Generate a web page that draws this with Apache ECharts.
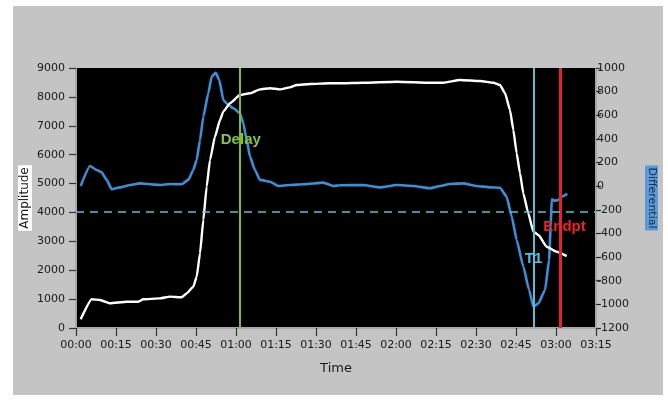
<!DOCTYPE html>
<html><head><meta charset="utf-8">
<script src="https://cdn.jsdelivr.net/npm/echarts@6/dist/echarts.min.js"></script>
<style>html,body{margin:0;padding:0;background:#fff}#c{width:668px;height:405px}</style>
</head><body><div id="c"></div>
<script>
// Time ticks (seconds), 00:00 ... 03:15
const timeMin = 0, timeMax = 195, timeStep = 15;
// Amplitude (white, left axis)
const ampTime = [1.75,5.9,9,12.75,19,23.4,25.2,31.5,35.25,39.6,41.5,44,45.25,46.5,47.75,49,50.25,52.1,54,55.25,57.75,61.5,65.25,69,72.75,76.5,80.25,82.75,87.75,95.25,99,107.75,120.25,132.75,137.75,144,151.5,156.5,159,160.9,162.75,164,165.25,166.5,167.75,169.6,171.5,173.4,176.5,180.25,184];
const ampValues = [300,993,970,855,910,910,993,1027,1085,1062,1200,1430,1775,2585,3740,4890,5815,6620,7200,7490,7780,8065,8125,8260,8300,8260,8330,8410,8445,8470,8470,8490,8525,8490,8490,8585,8550,8490,8410,8125,7545,6855,6050,5355,4660,3970,3335,3220,2815,2640,2490];
// Differential (blue, right axis)
const diffTime = [1.75,5.25,7.75,9.6,11.5,13.4,16.5,20.25,24,27.75,31.5,35.25,39.6,42.1,44,45.25,46.5,47.75,49.6,50.9,52.4,53.75,55.25,57.1,59,61.5,62.75,64,65.25,67.1,69,72.75,75.9,80.25,85.25,92.75,96.5,99,107.75,114,120.25,126.5,132.75,136.5,140.25,145.25,150.25,155.25,159,161.5,163.4,165.25,167.75,169.9,171.5,173.4,175.9,177.4,178,178.4,179.6,180.9,182.1,184.25];
const diffValues = [2,171,137,117,53,-26,-10,10,24,16,10,19,16,53,137,222,391,588,786,927,960,898,729,687,659,617,532,391,250,137,53,38,2,10,16,30,2,8,10,-10,10,2,-18,2,19,24,2,-10,-13,-89,-258,-455,-681,-878,-1020,-991,-878,-625,-343,-111,-123,-117,-89,-66];
// Markers
const delayTime = 61.5, t1Time = 171.75, endptTime = 181.7, thresholdAmp = 4030;
const markerLabels = [
  {name:'Delay', t:61.8, amp:6500, color:'#86c540'},
  {name:'T1', t:171.6, amp:2390, color:'#52c0da'},
  {name:'Endpt', t:183.2, amp:3500, color:'#ee2228'}
];

function fmtTime(v){const m=Math.floor(v/60), s=Math.round(v%60);return String(m).padStart(2,'0')+':'+String(s).padStart(2,'0');}
const zip=(a,b)=>a.map((x,i)=>[x,b[i]]);
const axisFont = {fontFamily:'DejaVu Sans', fontSize:11, color:'#1a1a1a'};

const chart = echarts.init(document.getElementById('c'), null, {renderer:'canvas'});
chart.setOption({
  backgroundColor:'#ffffff',
  animation:false,
  graphic:[{type:'rect', z:-10, silent:true, shape:{x:13,y:6,width:650,height:389}, style:{fill:'#c4c4c4'}}],
  grid:{left:76,right:72,top:68,bottom:77,show:true,backgroundColor:'#000000',borderWidth:0},
  xAxis:{type:'value',min:timeMin,max:timeMax,interval:timeStep,
    name:'Time',nameLocation:'middle',nameGap:34,nameTextStyle:{fontFamily:'DejaVu Sans',fontSize:13,color:'#1a1a1a'},
    axisLine:{show:true,onZero:false,lineStyle:{color:'#a8a8a8',width:2}},
    axisTick:{show:true,length:8,lineStyle:{color:'#333',width:1.2}},
    axisLabel:{...axisFont,margin:12,formatter:fmtTime},
    splitLine:{show:false}},
  yAxis:[
    {type:'value',min:0,max:9000,interval:1000,position:'left',
     name:'Amplitude',nameLocation:'middle',nameGap:44,nameMoveOverlap:false,
     nameTextStyle:{fontFamily:'DejaVu Sans',fontSize:12,color:'#1a1a1a',backgroundColor:'#ffffff',padding:[1,2,1,2]},
     axisLine:{show:true,lineStyle:{color:'#a8a8a8',width:2}},
     axisTick:{show:true,length:7,lineStyle:{color:'#333',width:1.2}},
     axisLabel:{...axisFont,margin:11,formatter:v=>String(v)},
     splitLine:{show:false}},
    {type:'value',min:-1200,max:1000,interval:200,position:'right',
     name:'Differential',nameLocation:'middle',nameGap:49,nameRotate:-90,
     nameTextStyle:{fontFamily:'DejaVu Sans',fontSize:11,color:'#1a2a40',backgroundColor:'#5b9ad8',padding:[1,2,1,2]},
     axisLine:{show:true,lineStyle:{color:'#a8a8a8',width:2}},
     axisTick:{show:true,length:5,lineStyle:{color:'#333',width:1.2}},
     axisLabel:{...axisFont,margin:1,formatter:v=>String(v)},
     splitLine:{show:false}}
  ],
  series:[
    {type:'line',name:'Differential',yAxisIndex:1,data:zip(diffTime,diffValues),showSymbol:false,smooth:0.15,smoothMonotone:'x',
     lineStyle:{color:'#3a8fd6',width:2.6},z:2},
    {type:'line',name:'Amplitude',yAxisIndex:0,data:zip(ampTime,ampValues),showSymbol:false,smooth:0.15,smoothMonotone:'x',
     lineStyle:{color:'#ffffff',width:2.4},z:3,
     markLine:{silent:true,symbol:'none',label:{show:false},
       data:[
         {xAxis:delayTime,lineStyle:{color:'#80bd2e',width:2,type:'solid'}},
         {xAxis:t1Time,lineStyle:{color:'#52c0da',width:2,type:'solid'}},
         {xAxis:endptTime,lineStyle:{color:'#e8202a',width:3,type:'solid'}},
         {yAxis:thresholdAmp,lineStyle:{color:'#4fc3d9',width:1.6,type:[8,6]}}
       ]},
     markPoint:{silent:true,symbol:'circle',symbolSize:0,
       data:markerLabels.map(m=>({coord:[m.t,m.amp],label:{show:true,position:'inside',formatter:m.name,
         color:m.color,fontFamily:'Liberation Sans Narrow, Arial Narrow, sans-serif',fontWeight:'bold',fontSize:15}}))}}
  ]
});
</script></body></html>
